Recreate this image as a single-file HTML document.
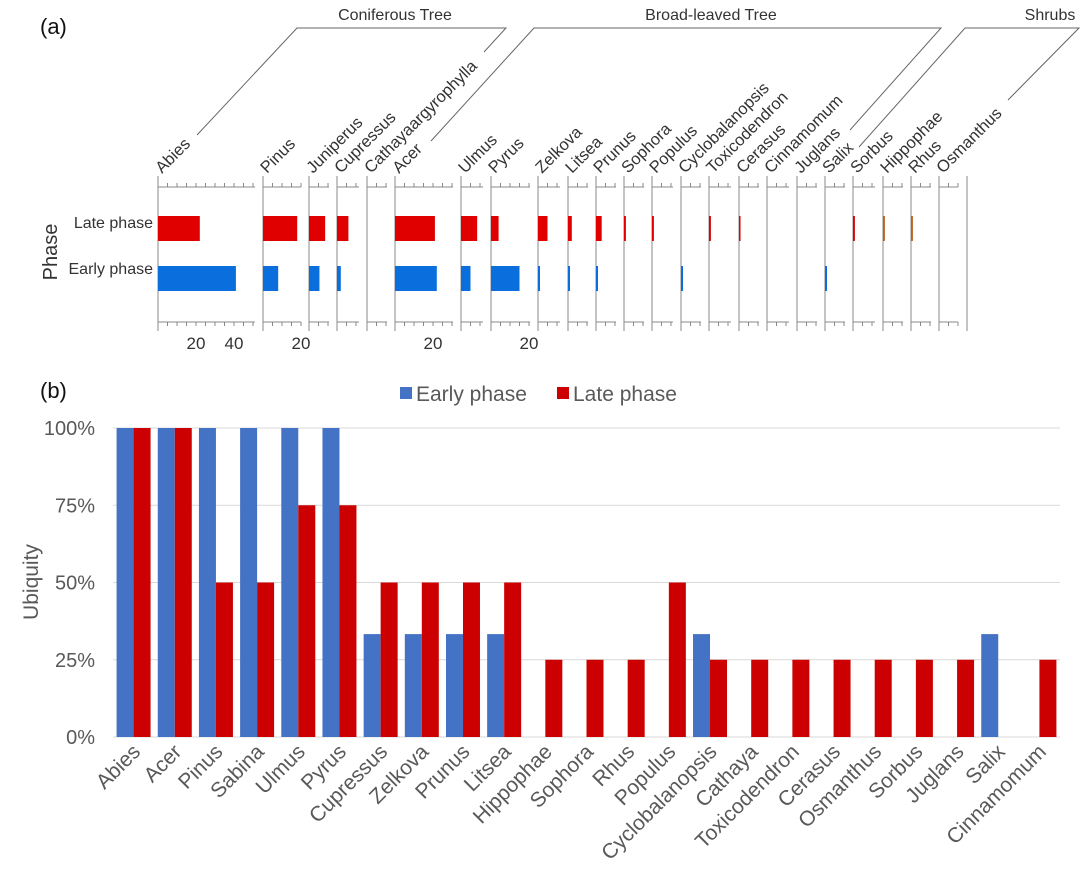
<!DOCTYPE html>
<html><head><meta charset="utf-8"><style>
html,body{margin:0;padding:0;background:#fff;}
svg{display:block;font-family:"Liberation Sans",sans-serif;}
</style></head><body>
<svg id="fig" width="1080" height="892" viewBox="0 0 1080 892">
<text x="40" y="34" font-size="22" fill="#111">(a)</text>
<text x="40" y="398" font-size="22" fill="#111">(b)</text>
<g id="pa"></g>
<g id="pb"></g>
</svg>
<script>
// ---- Panel (a) data ----
const aTaxa = ["Abies","Pinus","Juniperus","Cupressus","Cathayaargyrophylla","Acer","Ulmus","Pyrus","Zelkova","Litsea","Prunus","Sophora","Populus","Cyclobalanopsis","Toxicodendron","Cerasus","Cinnamomum","Juglans","Salix","Sorbus","Hippophae","Rhus","Osmanthus"];
const aLate = [22,18,8.5,6,0,21,8.5,4,5,2,3,1,1,0,1,0.7,0,0,0,1,1,1,0];
const aEarly = [41,8,5.5,2,0,22,5,15,1,1,1,0,0,1,0,0,0,0,1,0,0,0,0];
const aStarts = [158,263,309,337,367,395,461,491,538,568,596,624,652,681,709,739,767,797,825,853,883,911,939];
const aTickLabels = ["20","40"];
const aTickVals = [20,40];

// ---- Panel (b) data ----
const bCats = ["Abies","Acer","Pinus","Sabina","Ulmus","Pyrus","Cupressus","Zelkova","Prunus","Litsea","Hippophae","Sophora","Rhus","Populus","Cyclobalanopsis","Cathaya","Toxicodendron","Cerasus","Osmanthus","Sorbus","Juglans","Salix","Cinnamomum"];
const bEarly = [100,100,100,100,100,100,33.3,33.3,33.3,33.3,0,0,0,0,33.3,0,0,0,0,0,0,33.3,0];
const bLate = [100,100,50,50,75,75,50,50,50,50,25,25,25,50,25,25,25,25,25,25,25,0,25];
const bTicks = [0,25,50,75,100];
const bTickLabels = ["0%","25%","50%","75%","100%"];

const NS="http://www.w3.org/2000/svg";
function mk(parent,tag,attrs){const e=document.createElementNS(NS,tag);for(const k in attrs)e.setAttribute(k,attrs[k]);parent.appendChild(e);return e;}

// Panel a
const pa=document.getElementById('pa');
const aScale=1.9; // px per unit
const ax=v=>v*aScale;
const yTop=187,yBot=322,lineTop=176,lineBot=331;
const lateY=216,earlyY=266,barH=25;
let t=mk(pa,'text',{x:153,y:228,'font-size':16,fill:'#333','text-anchor':'end'});t.textContent="Late phase";


t=mk(pa,'text',{x:153,y:274,'font-size':16,fill:'#333','text-anchor':'end'});t.textContent="Early phase";


t=mk(pa,'text',{x:0,y:0,'font-size':20,fill:'#333','text-anchor':'middle',transform:'translate(57,252) rotate(-90)'});t.textContent="Phase";


for(let i=0;i<aTaxa.length;i++){
  const x0=aStarts[i];
  const x1=i<aTaxa.length-1?aStarts[i+1]-8:967;
  const xe=i<aTaxa.length-1?x1:x0+19;
  const g=mk(pa,'g',{});
  
  
  mk(g,'line',{x1:x0,y1:lineTop,x2:x0,y2:lineBot,stroke:'#888','stroke-width':1});
  if(i===aTaxa.length-1) mk(g,'line',{x1:967,y1:lineTop,x2:967,y2:lineBot,stroke:'#888','stroke-width':1});
  [yTop,yBot].forEach(yy=>{
    mk(g,'line',{x1:x0,y1:yy,x2:xe,y2:yy,stroke:'#888','stroke-width':1});
    for(let v=5;ax(v)<=xe-x0+0.5;v+=5){mk(g,'line',{x1:x0+ax(v),y1:yy,x2:x0+ax(v),y2:yy+(yy===yTop?-4:4),stroke:'#888','stroke-width':1});}
  });
  if(aLate[i]>0){const r=mk(g,'rect',{x:x0,y:lateY,width:Math.max(ax(aLate[i]),1.5),height:barH,fill:(i===20||i===21)?'#c0601a':'#e00000'});
    
    }
  if(aEarly[i]>0){const r=mk(g,'rect',{x:x0,y:earlyY,width:Math.max(ax(aEarly[i]),2),height:barH,fill:'#0a6fdc'});
    
    }
  const lb=mk(g,'text',{x:0,y:0,'font-size':16.5,fill:'#333',transform:`translate(${x0+4},${lineTop-2}) rotate(-45)`});
  lb.textContent=aTaxa[i];
  
  
}
function aLabel(x,txt){const e=mk(pa,'text',{x:x,y:349,'font-size':17,fill:'#333','text-anchor':'middle'});e.textContent=txt;
  
  }
aTickVals.forEach((v,k)=>aLabel(aStarts[0]+ax(v),aTickLabels[k]));
aLabel(aStarts[1]+ax(20),"20");aLabel(aStarts[5]+ax(20),"20");aLabel(aStarts[7]+ax(20),"20");
const br=[["Coniferous Tree","197,135 297,28 506,28 484,52",395],["Broad-leaved Tree","431,141 534,28 941,28 850,130",711],["Shrubs","859,147 965,28 1079,28 1008,100",1050]];
br.forEach(b=>{const p=mk(pa,'polyline',{points:b[1],fill:'none',stroke:'#666','stroke-width':1});
  
  
  const e=mk(pa,'text',{x:b[2],y:20,'font-size':16,fill:'#333','text-anchor':'middle'});e.textContent=b[0];
  
  });

// Panel b
const pb=document.getElementById('pb');
const L=113,R=1060,Y0=737,Y1=428;
const slot=(R-L)/bCats.length;
const yS=v=>Y0-(v/100)*(Y0-Y1);
const xS=i=>L+slot*i;
bTicks.forEach((v,k)=>{
  const gl=mk(pb,'line',{x1:L,y1:yS(v),x2:R,y2:yS(v),stroke:'#d9d9d9','stroke-width':1});
  
  
  const e=mk(pb,'text',{x:95,y:yS(v)+7,'font-size':20,fill:'#595959','text-anchor':'end'});e.textContent=bTickLabels[k];
  
  
});
t=mk(pb,'text',{x:0,y:0,'font-size':21,fill:'#595959','text-anchor':'middle',transform:'translate(38,582) rotate(-90)'});t.textContent="Ubiquity";


const bw=17;
bCats.forEach((c,i)=>{
  const cx=xS(i)+slot/2;
  if(bEarly[i]>0){const r=mk(pb,'rect',{x:cx-bw,y:yS(bEarly[i]),width:bw,height:Y0-yS(bEarly[i]),fill:'#4472c4'});
    
    }
  if(bLate[i]>0){const r=mk(pb,'rect',{x:cx,y:yS(bLate[i]),width:bw,height:Y0-yS(bLate[i]),fill:'#cc0000'});
    
    }
  const e=mk(pb,'text',{x:0,y:0,'font-size':21,fill:'#595959','text-anchor':'end',transform:`translate(${cx+8},${753}) rotate(-45)`});
  e.textContent=c;
  
  
});
let lg=mk(pb,'g',{});


mk(lg,'rect',{x:400,y:387,width:12,height:12,fill:'#4472c4'});
t=mk(lg,'text',{x:416,y:401,'font-size':21,fill:'#595959'});t.textContent="Early phase";


mk(lg,'rect',{x:557,y:387,width:12,height:12,fill:'#cc0000'});
t=mk(lg,'text',{x:573,y:401,'font-size':21,fill:'#595959'});t.textContent="Late phase";


</script>
</body></html>
